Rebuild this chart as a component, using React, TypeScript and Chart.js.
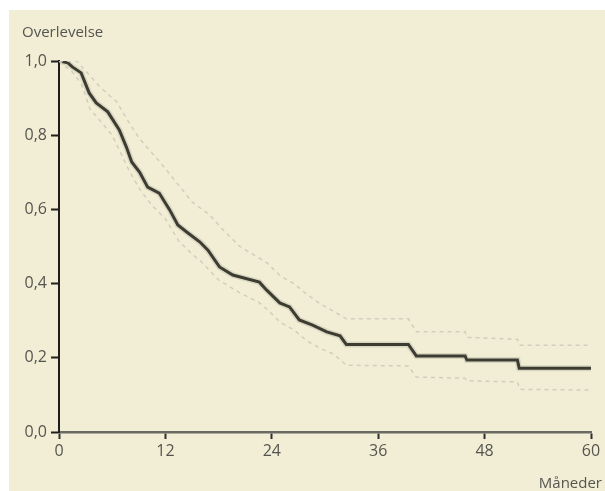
import React, { useEffect, useRef } from "react";
import { Chart, registerables } from "chart.js";

Chart.register(...registerables);

// Kaplan-Meier estimate (months, survival)
const survMonths = [0, 1.0, 1.5, 2.5, 3.4, 4.2, 5.5, 6.8, 7.6, 8.2, 9.1, 10.0, 11.3, 12.5, 13.4, 14.4, 15.9, 16.8, 18.1, 19.6, 22.6, 23.4, 24.9, 26.0, 27.1, 28.6, 30.2, 31.7, 32.4, 39.4, 40.3, 45.8, 46.0, 51.7, 51.9, 60];
const survValues = [1.0, 0.995, 0.984, 0.968, 0.914, 0.887, 0.863, 0.814, 0.768, 0.728, 0.70, 0.66, 0.644, 0.598, 0.558, 0.539, 0.512, 0.49, 0.445, 0.423, 0.404, 0.383, 0.348, 0.337, 0.302, 0.288, 0.27, 0.259, 0.236, 0.236, 0.205, 0.205, 0.194, 0.194, 0.172, 0.172];

// Upper confidence limit
const upperMonths = [0, 2, 3.5, 4.6, 6.5, 8, 9.1, 11.3, 13, 15, 17, 18.5, 20.4, 22.5, 23.5, 25, 26.5, 28, 29.5, 31, 32.4, 39.4, 40.3, 45.8, 46.0, 51.7, 52, 60];
const upperValues = [1.0, 1.0, 0.96, 0.93, 0.89, 0.83, 0.79, 0.73, 0.68, 0.62, 0.585, 0.545, 0.50, 0.47, 0.455, 0.42, 0.40, 0.37, 0.345, 0.325, 0.305, 0.305, 0.27, 0.27, 0.255, 0.25, 0.234, 0.234];

// Lower confidence limit
const lowerMonths = [0, 1.5, 2.5, 3.5, 4.6, 6, 7, 8, 9.1, 10.5, 12, 13.5, 15, 16, 18, 20.4, 22.5, 23.5, 25, 26.5, 28, 29.5, 31, 32.4, 39.4, 40.3, 45.8, 46, 51.7, 52, 60];
const lowerValues = [1.0, 0.97, 0.94, 0.87, 0.84, 0.80, 0.75, 0.70, 0.655, 0.61, 0.575, 0.515, 0.48, 0.46, 0.41, 0.375, 0.35, 0.33, 0.295, 0.275, 0.245, 0.225, 0.21, 0.18, 0.178, 0.148, 0.145, 0.138, 0.135, 0.115, 0.113];

const xTicks = [0, 12, 24, 36, 48, 60];
const yTicks = [0, 0.2, 0.4, 0.6, 0.8, 1.0];

const yTitle = "Overlevelse";
const xTitle = "Måneder";

const FONT = "'Open Sans', 'DejaVu Sans', sans-serif";
const TEXT = "#55554f";

const toPoints = (xs: number[], ys: number[]) => xs.map((x, i) => ({ x, y: ys[i] }));

const bgPlugin = {
  id: "bg",
  beforeDraw(chart: any) {
    const { ctx, width, height } = chart;
    ctx.save();
    ctx.fillStyle = "#ffffff";
    ctx.fillRect(0, 0, width, height);
    ctx.fillStyle = "#f2eed6";
    ctx.fillRect(9, 10, width - 9, height - 10);
    ctx.restore();
  },
  afterDraw(chart: any) {
    const { ctx } = chart;
    ctx.save();
    ctx.fillStyle = TEXT;
    ctx.font = `15px ${FONT}`;
    ctx.textBaseline = "alphabetic";
    ctx.textAlign = "left";
    ctx.fillText(yTitle, 22, 37);
    ctx.textAlign = "right";
    ctx.fillText(xTitle, 602, 488);
    ctx.restore();
  },
};

export default function App() {
  const ref = useRef<HTMLCanvasElement | null>(null);
  useEffect(() => {
    if (!ref.current) return;
    const chart = new Chart(ref.current, {
      type: "line",
      data: {
        datasets: [
          {
            data: toPoints(upperMonths, upperValues),
            borderColor: "#d0cebd",
            borderWidth: 1.5,
            borderDash: [4, 4],
            pointRadius: 0,
            fill: false,
          },
          {
            data: toPoints(lowerMonths, lowerValues),
            borderColor: "#d0cebd",
            borderWidth: 1.5,
            borderDash: [4, 4],
            pointRadius: 0,
            fill: false,
          },
          {
            data: toPoints(survMonths, survValues),
            borderColor: "rgba(70,70,60,0.14)",
            borderWidth: 6,
            pointRadius: 0,
            fill: false,
          },
          {
            data: toPoints(survMonths, survValues),
            borderColor: "#3c3b32",
            borderWidth: 3,
            pointRadius: 0,
            fill: false,
          },
        ],
      },
      options: {
        animation: false,
        responsive: false,
        maintainAspectRatio: false,
        layout: { padding: { top: 61, right: 14, bottom: 0, left: 0 } },
        plugins: { legend: { display: false }, tooltip: { enabled: false } },
        scales: {
          x: {
            type: "linear",
            min: 0,
            max: 60,
            afterBuildTicks: (scale: any) => {
              scale.ticks = xTicks.map((v) => ({ value: v }));
            },
            afterFit: (scale: any) => {
              scale.height = 59;
            },
            border: { display: true, color: "#6b6a62", width: 2.5 },
            grid: { drawOnChartArea: false, drawTicks: true, tickLength: 7, tickColor: "#2e2e2a", tickWidth: 2 },
            ticks: {
              color: TEXT,
              font: { family: FONT, size: 16 },
              padding: 3,
              maxRotation: 0,
              autoSkip: false,
            },
          },
          y: {
            type: "linear",
            min: 0,
            max: 1,
            afterBuildTicks: (scale: any) => {
              scale.ticks = yTicks.map((v) => ({ value: v }));
            },
            afterFit: (scale: any) => {
              scale.width = 59;
            },
            border: { display: true, color: "#1e1e1a", width: 2 },
            grid: { drawOnChartArea: false, drawTicks: true, tickLength: 8, tickColor: "#1e1e1a", tickWidth: 2 },
            ticks: {
              color: TEXT,
              font: { family: FONT, size: 16 },
              padding: 4,
              autoSkip: false,
              callback: (v: any) => Number(v).toFixed(1).replace(".", ","),
            },
          },
        },
      },
      plugins: [bgPlugin],
    });
    return () => chart.destroy();
  }, []);
  return (
    <div style={{ position: "absolute", left: 0, top: 0, width: 605, height: 491 }}>
      <canvas ref={ref} width={605} height={491} style={{ width: 605, height: 491, display: "block" }} />
    </div>
  );
}
